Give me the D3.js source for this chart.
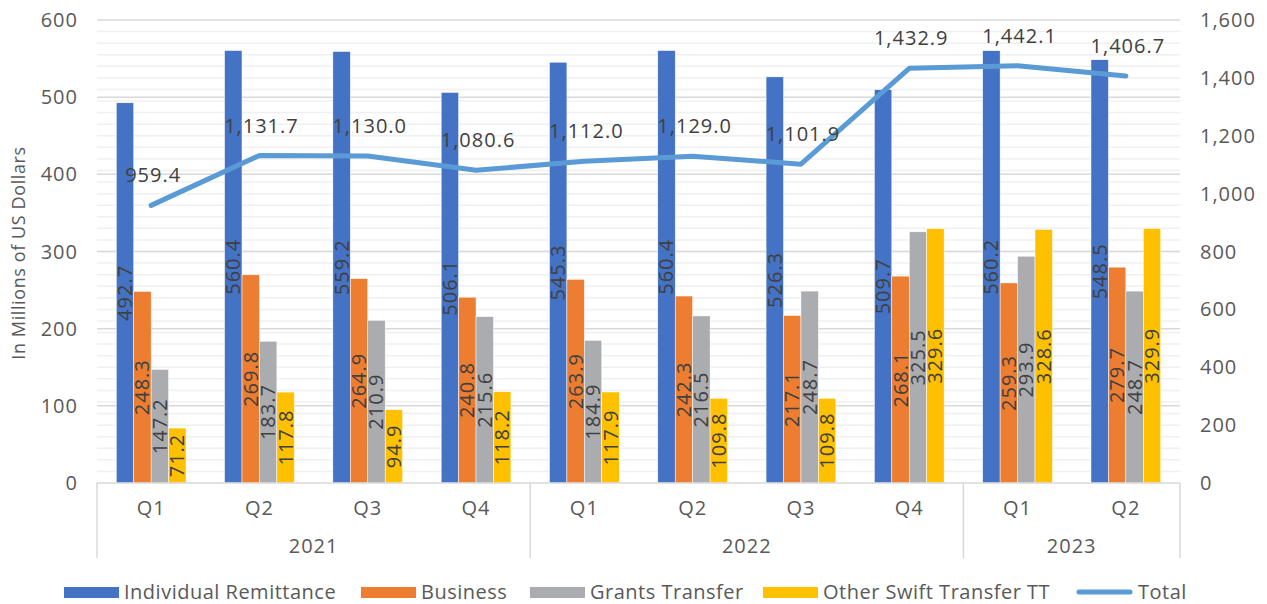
<!DOCTYPE html>
<html><head><meta charset="utf-8">
<script src="https://cdn.jsdelivr.net/npm/d3@7"></script>
<style>body{margin:0;background:#fff}svg{font-family:"Open Sans",sans-serif}</style>
</head><body><svg id="c" width="1267" height="604"></svg>
<script>
const quarters = ["Q1","Q2","Q3","Q4","Q1","Q2","Q3","Q4","Q1","Q2"];
const years = ["2021","2021","2021","2021","2022","2022","2022","2022","2023","2023"];
const individual = [492.7,560.4,559.2,506.1,545.3,560.4,526.3,509.7,560.2,548.5];
const business = [248.3,269.8,264.9,240.8,263.9,242.3,217.1,268.1,259.3,279.7];
const grants = [147.2,183.7,210.9,215.6,184.9,216.5,248.7,325.5,293.9,248.7];
const other = [71.2,117.8,94.9,118.2,117.9,109.8,109.8,329.6,328.6,329.9];
const total = [959.4,1131.7,1130.0,1080.6,1112.0,1129.0,1101.9,1432.9,1442.1,1406.7];
const leftTicks = [0,100,200,300,400,500,600];
const rightTicks = [0,200,400,600,800,1000,1200,1400,1600];
const seriesNames = ["Individual Remittance","Business","Grants Transfer","Other Swift Transfer TT"];
const seriesData = [individual,business,grants,other];
const colors = ["#4472c4","#ed7d31","#abacb0","#ffc000"];
const lineColor = "#5b9bd5";

const svg = d3.select("#c");
const L=97,R=1180,T=20,B=483;
const idx = d3.range(quarters.length);
const x0 = d3.scaleBand().domain(idx).range([L,R]).padding(0);
const cw = x0.bandwidth();
const x1 = d3.scaleBand().domain(d3.range(4)).range([cw*0.178, cw*0.822]).padding(0);
const yL = d3.scaleLinear().domain([0,600]).range([B,T]);
const yR = d3.scaleLinear().domain([0,1600]).range([B,T]);
const txt="#595959";
const FS=20, LSN="1px", LST="0.5px";

// minor grid (secondary axis, every 40)
svg.append("g").selectAll("line").data(d3.range(40,1600,40)).join("line")
  .attr("x1",L).attr("x2",R).attr("y1",d=>yR(d)).attr("y2",d=>yR(d))
  .attr("stroke","#f0f0f0").attr("stroke-width",1.5);
// major grid
svg.append("g").selectAll("line").data(leftTicks.slice(1)).join("line")
  .attr("x1",L).attr("x2",R).attr("y1",d=>yL(d)).attr("y2",d=>yL(d))
  .attr("stroke","#d9d9d9").attr("stroke-width",1.5);

// bars
seriesData.forEach((arr,s)=>{
  const g=svg.append("g");
  g.selectAll("rect").data(idx).join("rect")
    .attr("x",i=>x0(i)+x1(s)).attr("width",x1.bandwidth())
    .attr("y",i=>yL(arr[i])).attr("height",i=>B-yL(arr[i]))
    .attr("fill",colors[s]).attr("stroke","#fff").attr("stroke-width",0.5);
  g.selectAll("text").data(idx).join("text")
    .attr("transform",i=>`translate(${x0(i)+x1(s)+x1.bandwidth()/2},${(yL(arr[i])+B)/2}) rotate(-90)`)
    .attr("text-anchor","middle").attr("dy","0.35em")
    .attr("font-size",FS).attr("letter-spacing",LSN).attr("fill","#404040")
    .text(i=>d3.format(".1f")(arr[i]));
});

// axis line
svg.append("line").attr("x1",L).attr("x2",R).attr("y1",B).attr("y2",B).attr("stroke","#d9d9d9").attr("stroke-width",1.5);

// left ticks
svg.append("g").selectAll("text").data(leftTicks).join("text")
  .attr("x",78).attr("y",d=>yL(d)).attr("dy","0.35em").attr("text-anchor","end")
  .attr("font-size",FS).attr("letter-spacing",LSN).attr("fill",txt).text(d=>d);
// right ticks
svg.append("g").selectAll("text").data(rightTicks).join("text")
  .attr("x",1200).attr("y",d=>yR(d)).attr("dy","0.35em").attr("text-anchor","start")
  .attr("font-size",FS).attr("letter-spacing",LSN).attr("fill",txt).text(d=>d3.format(",")(d));

// y title
svg.append("text").attr("transform","translate(19,253) rotate(-90)").attr("text-anchor","middle").attr("dy","0.35em")
  .attr("font-size",18).attr("letter-spacing","0.6px").attr("fill",txt).text("In Millions of US Dollars");

// category labels
svg.append("g").selectAll("text").data(idx).join("text")
  .attr("x",i=>x0(i)+cw/2).attr("y",508).attr("dy","0.35em").attr("text-anchor","middle")
  .attr("font-size",FS).attr("letter-spacing",LSN).attr("fill",txt).text(i=>quarters[i]);
// year groups
const yearGroups = d3.groups(idx,i=>years[i]);
const seps=[L];
yearGroups.forEach(([yr,is])=>{
  const a=x0(is[0]), b=x0(is[is.length-1])+cw;
  seps.push(b);
  svg.append("text").attr("x",(a+b)/2).attr("y",546).attr("dy","0.35em").attr("text-anchor","middle")
    .attr("font-size",FS).attr("letter-spacing",LSN).attr("fill",txt).text(yr);
});
svg.append("g").selectAll("line").data(seps).join("line")
  .attr("x1",d=>d).attr("x2",d=>d).attr("y1",B).attr("y2",558)
  .attr("stroke","#d9d9d9").attr("stroke-width",1.5);

// total line
const line=d3.line().x(i=>x0(i)+cw/2).y(i=>yR(total[i]));
svg.append("path").datum(idx).attr("d",line).attr("fill","none")
  .attr("stroke",lineColor).attr("stroke-width",5).attr("stroke-linecap","round").attr("stroke-linejoin","round");
svg.append("g").selectAll("text").data(idx).join("text")
  .attr("x",i=>x0(i)+cw/2+2).attr("y",i=>yR(total[i])-30).attr("dy","0.35em").attr("text-anchor","middle")
  .attr("font-size",FS).attr("letter-spacing",LSN).attr("fill","#404040").text(i=>d3.format(",.1f")(total[i]));

// legend
const leg=[{n:seriesNames[0],x:64,c:colors[0]},{n:seriesNames[1],x:361,c:colors[1]},{n:seriesNames[2],x:530,c:colors[2]},{n:seriesNames[3],x:763,c:colors[3]}];
leg.forEach(d=>{
  svg.append("rect").attr("x",d.x).attr("y",587).attr("width",55).attr("height",11).attr("fill",d.c);
  svg.append("text").attr("x",d.x+60).attr("y",592).attr("dy","0.35em").attr("font-size",FS).attr("letter-spacing",LST).attr("fill",txt).text(d.n);
});
svg.append("line").attr("x1",1079).attr("x2",1130).attr("y1",592).attr("y2",592).attr("stroke",lineColor).attr("stroke-width",5).attr("stroke-linecap","round");
svg.append("text").attr("x",1138).attr("y",592).attr("dy","0.35em").attr("font-size",FS).attr("letter-spacing",LST).attr("fill",txt).text("Total");
</script></body></html>
